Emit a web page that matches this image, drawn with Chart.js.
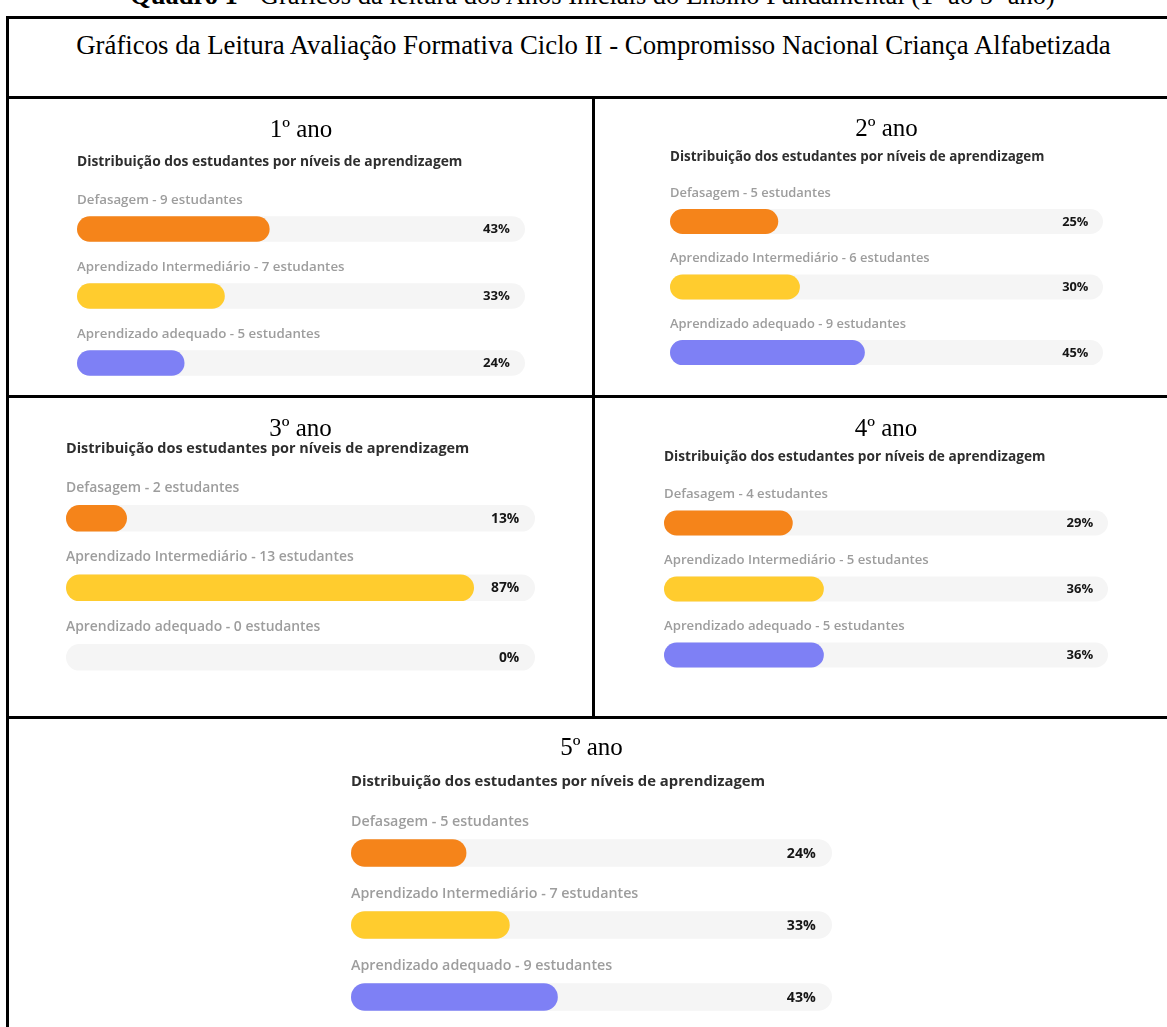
<!DOCTYPE html>
<html lang="pt-BR">
<head>
<meta charset="utf-8">
<title>Quadro 1 - Gráficos da leitura</title>
<script src="https://cdn.jsdelivr.net/npm/chart.js@4.4.1/dist/chart.umd.min.js"></script>
<style>
  html, body { margin: 0; padding: 0; background: #fff; }
  body { width: 1167px; height: 1027px; position: relative; overflow: hidden;
         font-family: "Liberation Serif", "Times New Roman", serif; color: #000; }
  .linha { position: absolute; background: #000; }
  .legenda { position: absolute; left: 0; width: 1185px; top: -18px; text-align: center;
             font-size: 26.5px; line-height: 26.5px; white-space: nowrap; }
  .cabecalho { position: absolute; left: 0; width: 1187px; top: 32px; text-align: center;
               font-size: 26.8px; line-height: 27px; white-space: nowrap; }
  .painel { position: absolute; }
</style>
</head>
<body>
<div class="legenda"><b>Quadro 1</b> - Gráficos da leitura dos Anos Iniciais do Ensino Fundamental (1º ao 5º ano)</div>
<div class="linha" style="left:6px;top:16px;width:1161px;height:3px"></div>
<div class="linha" style="left:6px;top:16px;width:3px;height:1011px"></div>
<div class="linha" style="left:6px;top:96px;width:1161px;height:3px"></div>
<div class="linha" style="left:6px;top:395px;width:1161px;height:3px"></div>
<div class="linha" style="left:6px;top:716px;width:1161px;height:3px"></div>
<div class="linha" style="left:592px;top:96px;width:3px;height:623px"></div>
<div class="cabecalho">Gráficos da Leitura Avaliação Formativa Ciclo II - Compromisso Nacional Criança Alfabetizada</div>
<script>
const anos = ['1º ano', '2º ano', '3º ano', '4º ano', '5º ano'];
const niveis = ['Defasagem', 'Aprendizado Intermediário', 'Aprendizado adequado'];
const estudantes1 = [9, 7, 5];
const percentual1 = [43, 33, 24];
const estudantes2 = [5, 6, 9];
const percentual2 = [25, 30, 45];
const estudantes3 = [2, 13, 0];
const percentual3 = [13, 87, 0];
const estudantes4 = [4, 5, 5];
const percentual4 = [29, 36, 36];
const estudantes5 = [5, 7, 9];
const percentual5 = [24, 33, 43];
const trilha = [100, 100, 100];

const subtitulo = 'Distribuição dos estudantes por níveis de aprendizagem';
const cores = ['#F5841A', '#FFCC2E', '#7E80F5'];

// posição de cada painel na página
const paineis = [
  { left: 77,  width: 448, titulo: 130,   sub: 161.5, barra1: 228.5, passo: 67,   espessura: 25.5, rotuloDy: -29,   escala: 1 },
  { left: 670, width: 433, titulo: 129,   sub: 156.2, barra1: 221,   passo: 65.5, espessura: 25,   rotuloDy: -28.3, escala: 0.972 },
  { left: 66,  width: 469, titulo: 429.5, sub: 448.5, barra1: 518.3, passo: 69.5, espessura: 26.5, rotuloDy: -30.3, escala: 1.047 },
  { left: 664, width: 444, titulo: 429.5, sub: 457.2, barra1: 523,   passo: 66,   espessura: 25,   rotuloDy: -28.7, escala: 0.99 },
  { left: 351, width: 481, titulo: 748.3, sub: 781.2, barra1: 852.8, passo: 72,   espessura: 27.5, rotuloDy: -31,   escala: 1.075 }
];

const rotulos = {
  id: 'rotulos',
  afterDatasetsDraw(chart, args, opts) {
    const { ctx, scales: { x, y } } = chart;
    const pct = chart.data.datasets[0].data;
    ctx.save();
    ctx.textBaseline = 'middle';
    chart.data.labels.forEach((lab, i) => {
      const cy = y.getPixelForValue(i);
      ctx.font = `600 ${13.3 * opts.escala}px "Open Sans"`;
      ctx.fillStyle = '#9d9d9d';
      ctx.textAlign = 'left';
      ctx.fillText(lab, x.getPixelForValue(0), cy + opts.dy);
      ctx.font = `bold ${13.2 * opts.escala}px "Open Sans"`;
      ctx.fillStyle = '#161616';
      ctx.textAlign = 'right';
      ctx.fillText(pct[i] + '%', x.getPixelForValue(100) - 15 * opts.escala, cy + 0.5);
    });
    ctx.restore();
  }
};

function desenharPainel(p, ano, estudantes, percentual) {
  const tamTitulo = 25;
  const tamSub = 13.8 * p.escala;
  const topo = p.titulo - tamTitulo / 2;
  const inicio = p.barra1 - p.passo / 2;
  const fim = inicio + 3 * p.passo;

  const box = document.createElement('div');
  box.className = 'painel';
  box.style.left = p.left + 'px';
  box.style.top = topo + 'px';
  box.style.width = p.width + 'px';
  box.style.height = (fim - topo) + 'px';
  const canvas = document.createElement('canvas');
  box.appendChild(canvas);
  document.body.appendChild(box);

  const radius = p.espessura / 2;
  new Chart(canvas, {
    type: 'bar',
    data: {
      labels: niveis.map((n, i) => `${n} - ${estudantes[i]} estudantes`),
      datasets: [
        { data: percentual,
          backgroundColor: c => (c.raw > 0 ? cores[c.dataIndex] : 'rgba(0,0,0,0)'),
          borderRadius: radius, borderSkipped: false, inflateAmount: 0,
          barThickness: p.espessura, grouped: false, order: 0 },
        { data: trilha, backgroundColor: '#f5f5f5', borderRadius: radius, borderSkipped: false,
          inflateAmount: 0, barThickness: p.espessura, grouped: false, order: 1 }
      ]
    },
    options: {
      indexAxis: 'y',
      responsive: true,
      maintainAspectRatio: false,
      animation: false,
      layout: { padding: 0 },
      scales: {
        x: { display: false, min: 0, max: 100 },
        y: { display: false, offset: true }
      },
      plugins: {
        legend: { display: false },
        tooltip: { enabled: false },
        title: {
          display: true, text: ano, align: 'center', color: '#000',
          font: { family: 'Liberation Serif', size: tamTitulo, weight: 'normal', lineHeight: 1 },
          padding: { top: 0, bottom: p.sub - tamSub * 0.6 - topo - tamTitulo }
        },
        subtitle: {
          display: true, text: subtitulo, align: 'start', color: '#2e2e2e',
          font: { family: 'Open Sans', size: tamSub, weight: 'bold' },
          padding: { top: 0, bottom: inicio - p.sub - tamSub * 0.6 }
        },
        rotulos: { escala: p.escala, dy: p.rotuloDy }
      }
    },
    plugins: [rotulos]
  });
}

desenharPainel(paineis[0], anos[0], estudantes1, percentual1);
desenharPainel(paineis[1], anos[1], estudantes2, percentual2);
desenharPainel(paineis[2], anos[2], estudantes3, percentual3);
desenharPainel(paineis[3], anos[3], estudantes4, percentual4);
desenharPainel(paineis[4], anos[4], estudantes5, percentual5);
</script>
</body>
</html>
